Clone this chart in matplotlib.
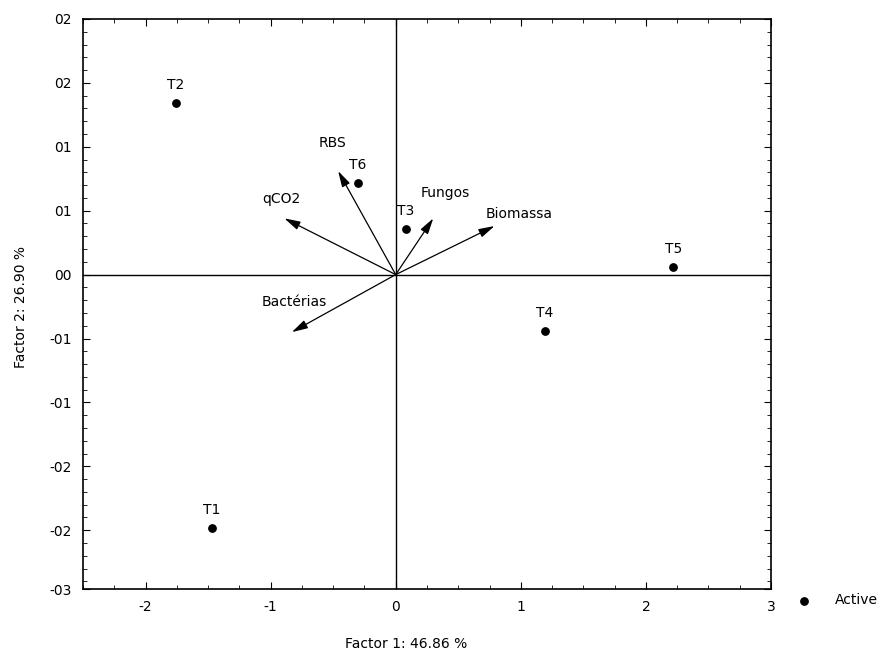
import matplotlib.pyplot as plt
from matplotlib.ticker import MultipleLocator

# DATOS
# -------------------------
cases = ["T1", "T2", "T3", "T4", "T5", "T6"]
case_x = [-1.47, -1.76, 0.08, 1.19, 2.22, -0.30]
case_y = [-1.98, 1.34, 0.36, -0.44, 0.06, 0.72]

variables = ["RBS", "qCO2", "Fungos", "Biomassa", "Bactérias"]
var_x = [-0.46, -0.89, 0.30, 0.79, -0.83]
var_y = [0.81, 0.44, 0.44, 0.38, -0.45]

y_ticks = [2.0, 1.5, 1.0, 0.5, 0.0, -0.5, -1.0, -1.5, -2.0, -2.46]
y_labels = ["02", "02", "01", "01", "00", "-01", "-01", "-02", "-02", "-03"]
x_ticks = [-2, -1, 0, 1, 2, 3]
x_labels = ["-2", "-1", "0", "1", "2", "3"]

# offsets de etiquetas (en puntos)
var_offsets = {
    "RBS": (-4, 20),
    "qCO2": (-2, 14),
    "Fungos": (9, 18),
    "Biomassa": (18, 9),
    "Bactérias": (2, 22),
}

# FIGURA
# -------------------------
fig = plt.figure(figsize=(8.8, 6.59), dpi=100)
ax = fig.add_axes([0.0943, 0.1062, 0.7818, 0.865])

ax.set_xlim(-2.5, 3.0)
ax.set_ylim(-2.46, 2.0)

ax.axhline(0, color="black", lw=1.0)
ax.axvline(0, color="black", lw=1.0)

# vectores de variables
for name, vx, vy in zip(variables, var_x, var_y):
    ax.annotate("", xy=(vx, vy), xytext=(0, 0),
                arrowprops=dict(arrowstyle="-|>,head_length=0.8,head_width=0.22",
                                lw=0.9, color="black",
                                mutation_scale=12, shrinkA=0, shrinkB=0))
    dx, dy = var_offsets[name]
    ax.annotate(name, xy=(vx, vy), xytext=(dx, dy), textcoords="offset points",
                ha="center", va="center", fontsize=10)

# casos
ax.scatter(case_x, case_y, s=28, color="black", zorder=3, label="Active")
for name, cx, cy in zip(cases, case_x, case_y):
    ax.annotate(name, xy=(cx, cy), xytext=(0, 13), textcoords="offset points",
                ha="center", va="center", fontsize=10)

ax.set_xticks(x_ticks)
ax.set_xticklabels(x_labels)
ax.set_yticks(y_ticks)
ax.set_yticklabels(y_labels)
ax.xaxis.set_minor_locator(MultipleLocator(0.25))
ax.yaxis.set_minor_locator(MultipleLocator(0.1))
ax.tick_params(which="both", direction="in", top=True, right=True, labelsize=10)
ax.tick_params(which="major", length=5, pad=8)
ax.tick_params(which="minor", length=3)

for s in ax.spines.values():
    s.set_linewidth(1.2)

ax.set_xlabel("Factor 1: 46.86 %", fontsize=10)
ax.set_ylabel("Factor 2: 26.90 %", fontsize=10)
ax.xaxis.set_label_coords(0.469, -0.085)
ax.yaxis.set_label_coords(-0.08, 0.495)

ax.legend(loc="center left", bbox_to_anchor=(1.01, -0.02), frameon=False,
          fontsize=10, handletextpad=1.2, markerscale=1.0)

fig.savefig("out.png", dpi=100)
